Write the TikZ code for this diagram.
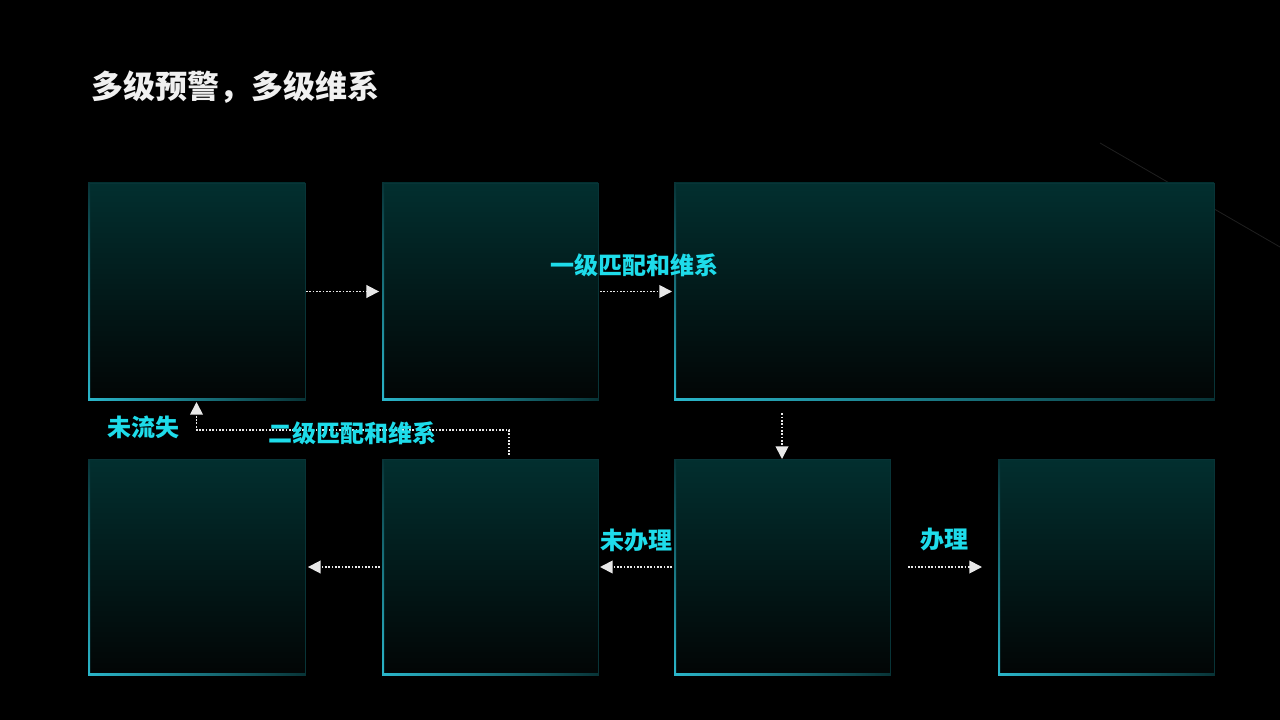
\documentclass[tikz,border=0pt]{standalone}
\usepackage{fontspec}
\newfontfamily\cjk{Noto Sans CJK SC}
\usetikzlibrary{arrows.meta}
\definecolor{boxtop}{RGB}{2,47,47}
\definecolor{boxmid}{RGB}{2,24,24}
\definecolor{boxbot}{RGB}{2,5,5}
\definecolor{edge}{RGB}{42,182,202}
\definecolor{edgedim}{RGB}{8,52,55}
\definecolor{lbl}{RGB}{30,220,234}
\definecolor{ttl}{RGB}{240,240,240}
\definecolor{dotc}{RGB}{232,232,232}
\tikzset{
  panel/.style={rectangle, inner sep=0pt, outer sep=0pt, anchor=north west,
    top color=boxtop, middle color=boxmid, bottom color=boxbot, draw=edgedim, line width=0.6pt},
  conn/.style={draw=dotc, line width=1.35pt, dash pattern=on 1.3pt off 1.2pt,
    -{Triangle[width=9.5pt,length=9.5pt]}, fill=none},
  lab/.style={font=\cjk\bfseries\fontsize{18}{20}\selectfont, text=lbl, inner sep=0pt},
}
\newcommand\mkpanel[5]{%
  \node[panel, minimum width=#4*0.75pt, minimum height=#5*0.75pt] (#1) at (#2,#3) {};
  \shade[top color=edgedim, bottom color=edge] (#2,#3) rectangle (#2+2,#3+#5);
  \shade[left color=edge, right color=edgedim] (#2,#3+#5-2) rectangle (#2+#4,#3+#5);
}
\begin{document}
\begin{tikzpicture}[x=0.75pt,y=-0.75pt]
\fill[black] (0,0) rectangle (1280,720);
\useasboundingbox (0,0) rectangle (1280,720);
% faint diagonal line in the background
\draw[white, opacity=0.12, line width=0.6pt] (1100,143) -- (1280,247);
% title
\node[anchor=west, inner sep=0pt, text=ttl, font=\cjk\bfseries\fontsize{24}{26}\selectfont] (title) at (91,87) {多级预警，多级维系};
% panels
\mkpanel{b1}{88}{183}{217}{217}
\mkpanel{b2}{382}{183}{216}{217}
\mkpanel{b3}{674}{183}{540}{217}
\mkpanel{b4}{88}{459}{217}{216}
\mkpanel{b5}{382}{459}{216}{216}
\mkpanel{b6}{674}{459}{216}{216}
\mkpanel{b7}{998}{459}{216}{216}
% connectors
\draw[conn, shorten <=0.8pt, shorten >=2.2pt] (b1.east) -- (b2.west);
\draw[conn, shorten <=1.5pt, shorten >=1.5pt] (b2.east) -- (b3.west);
\draw[conn, shorten <=10pt] (b6.north |- b3.south) -- (b6.north);
\draw[conn, shorten <=1.5pt, shorten >=1.5pt] (b6.west) -- (b5.east);
\draw[conn, shorten <=1.5pt, shorten >=2.2pt] (b5.west) -- (b4.east);
\draw[conn, shorten <=13.5pt, shorten >=12pt] (b6.east) -- (b7.west);
\coordinate (j) at (509,430);
\draw[conn, shorten <=3pt, shorten >=1.5pt] (b5.north -| j) -- (j) -| (b1.south);
% labels
\node[lab] (l1) at (634,265) {一级匹配和维系};
\node[lab] (l2) at (352,433) {二级匹配和维系};
\node[lab] (l3) at (143,427) {未流失};
\node[lab] (l4) at (636,540) {未办理};
\node[lab] (l5) at (944,540) {办理};
\end{tikzpicture}
\end{document}
